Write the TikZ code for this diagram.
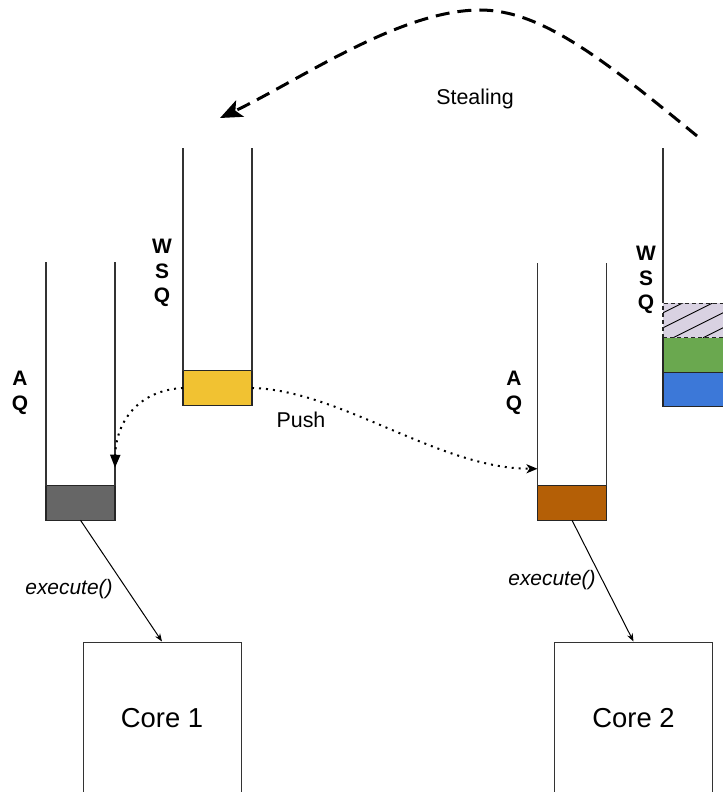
\documentclass[tikz,border=0pt]{standalone}
\usepackage{fontspec}
\setmainfont{Liberation Sans}
\usetikzlibrary{arrows.meta, calc}
\definecolor{taskgray}{HTML}{666666}
\definecolor{taskyellow}{HTML}{F1C232}
\definecolor{taskbrown}{HTML}{B45F06}
\definecolor{taskgreen}{HTML}{6AA84F}
\definecolor{taskblue}{HTML}{3C78D8}
\definecolor{tasklilac}{HTML}{D9D2E2}
\tikzset{
    wall/.style={draw=black!80, line width=1.2bp},
    task/.style={draw=black!85, line width=1.3bp, minimum width=69bp, minimum height=34.5bp, inner sep=0pt, outer sep=0pt},
    qlabel/.style={font=\bfseries\fontsize{21}{24.5}\selectfont, align=center, inner sep=0pt},
    corebox/.style={draw=black!80, line width=1bp, minimum width=158bp, minimum height=152bp, inner sep=0pt, font=\fontsize{27.5}{32}\selectfont},
    txt/.style={font=\fontsize{21.5}{25}\selectfont, inner sep=0pt},
    pushline/.style={line width=2bp, dash pattern=on 2bp off 5bp},
    stealline/.style={line width=3bp, dash pattern=on 14bp off 8bp},
    execline/.style={line width=1bp, -{Stealth[length=8bp, width=6bp]}}
}
\begin{document}
\begin{tikzpicture}[x=1bp, y=-1bp]
    \useasboundingbox (0,0) rectangle (723,792);
    \clip (0,0) rectangle (723,792);
    % Tasks
    \node[task, fill=taskgray] (t1) at (80.5,503) {};
    \node[task, fill=taskyellow] (t2) at (217.5,388) {};
    \node[task, fill=taskbrown] (t3) at (572,503) {};
    \node[task, fill=taskblue] (t6) at (697.5,389.5) {};
    \node[task, fill=taskgreen] (t5) at (697.5,355) {};
    \node[task, fill=tasklilac, draw=none] (t4) at (697.5,320.5) {};
    \begin{scope}
        \clip (t4.south west) rectangle (t4.north east);
        \foreach \k in {-2,...,3}
            \draw[line width=0.9bp] ($(t4.south west)+(\k*30+10,0)$) -- ++(80,-40);
    \end{scope}
    \draw[black!85, line width=1.2bp, dash pattern=on 4bp off 3bp] (t4.south west) rectangle (t4.north east);
    % Queues
    \draw[wall] (t1.north west) -- ++(0,-224);
    \draw[wall] (t1.north east) -- ++(0,-224);
    \draw[wall] (t2.north west) -- ++(0,-223);
    \draw[wall] (t2.north east) -- ++(0,-223);
    \draw[wall] (t3.north west) -- ++(0,-223);
    \draw[wall] (t3.north east) -- ++(0,-223);
    \draw[wall] (t4.north west) -- ++(0,-155);
    \draw[wall] (t4.north east) -- ++(0,-155);
    \node[qlabel] (aq1) at (20,393) {A\\Q};
    \node[qlabel] (wsq1) at (162,273) {W\\S\\Q};
    \node[qlabel] (aq2) at (514,393) {A\\Q};
    \node[qlabel] (wsq2) at (646,280) {W\\S\\Q};
    % Cores
    \node[corebox] (core1) at (162,718) {Core 1};
    \node[corebox] (core2) at (633.5,718) {Core 2};
    \draw[execline] (t1.south) -- (core1.north);
    \draw[execline] (t3.south) -- (core2.north);
    \node[txt, font=\itshape\fontsize{21}{24}\selectfont] (ex1) at (69,589) {execute()};
    \node[txt, font=\itshape\fontsize{21}{24}\selectfont] (ex2) at (552,580) {execute()};
    % Push
    \coordinate (in1) at ($(t1.north east)+(0,-18)$);
    \coordinate (in2) at ($(t3.north west)+(0,-17)$);
    \draw[pushline, -{Triangle[length=13bp, width=10bp]}] (t2.west) .. controls (140,390) and (116,420) .. (in1);
    \draw[pushline, -{Stealth[length=11bp, width=9bp, inset=3bp]}] (t2.east) .. controls (340,390) and (440,469) .. (in2);
    \node[txt] (push) at (301,420) {Push};
    % Stealing
    \coordinate (from) at (697,136);
    \coordinate (top) at (480,10);
    \coordinate (to) at (220,118);
    \draw[stealline, -{Stealth[length=22bp, width=18bp, inset=5bp]}] (from) .. controls (601,57) and (540,10) .. (top) .. controls (400,10) and (300,80) .. (to);
    \node[txt] (steal) at (475,99) {Stealing};
\end{tikzpicture}
\end{document}
